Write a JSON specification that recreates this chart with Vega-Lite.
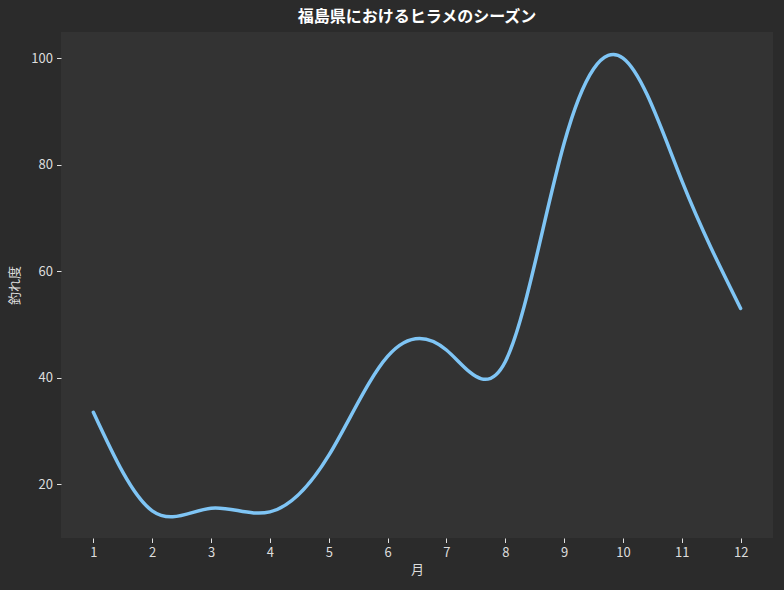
{
  "$schema": "https://vega.github.io/schema/vega-lite/v6.json",
  "autosize": "none",
  "width": 712,
  "height": 506,
  "padding": {"left": 61, "top": 32, "right": 11, "bottom": 52},
  "background": "#2b2b2b",
  "title": {
    "text": "福島県におけるヒラメのシーズン",
    "font": "Noto Sans CJK JP",
    "fontSize": 16,
    "fontWeight": "bold",
    "color": "#ffffff",
    "offset": 7
  },
  "data": {
    "values": [
      {"month": 1, "score": 33.5},
      {"month": 2, "score": 15.0},
      {"month": 3, "score": 15.5},
      {"month": 4, "score": 14.8},
      {"month": 5, "score": 25.4},
      {"month": 6, "score": 44.0},
      {"month": 7, "score": 45.2},
      {"month": 8, "score": 43.0},
      {"month": 9, "score": 84.0},
      {"month": 10, "score": 100.0},
      {"month": 11, "score": 77.0},
      {"month": 12, "score": 53.0}
    ]
  },
  "mark": {
    "type": "line",
    "interpolate": "natural",
    "color": "#7fc5f5",
    "strokeWidth": 3.5,
    "strokeCap": "round"
  },
  "encoding": {
    "x": {
      "field": "month",
      "type": "quantitative",
      "title": "月",
      "scale": {"domain": [0.45, 12.55], "nice": false, "zero": false},
      "axis": {"values": [1, 2, 3, 4, 5, 6, 7, 8, 9, 10, 11, 12], "format": "d"}
    },
    "y": {
      "field": "score",
      "type": "quantitative",
      "title": "釣れ度",
      "scale": {"domain": [9.9, 104.9], "nice": false, "zero": false},
      "axis": {"values": [20, 40, 60, 80, 100]}
    }
  },
  "config": {
    "view": {"fill": "#333333", "stroke": null},
    "axis": {
      "grid": false,
      "domain": false,
      "ticks": true,
      "tickColor": "#e0e0e0",
      "tickSize": 4.5,
      "tickWidth": 1,
      "labelFont": "Noto Sans CJK JP",
      "labelFontSize": 13,
      "labelColor": "#dddddd",
      "labelPadding": 4,
      "titleFont": "Noto Sans CJK JP",
      "titleFontSize": 13,
      "titleFontWeight": "normal",
      "titleColor": "#dddddd"
    },
    "axisX": {"titlePadding": 4},
    "axisY": {"titlePadding": 9}
  }
}
